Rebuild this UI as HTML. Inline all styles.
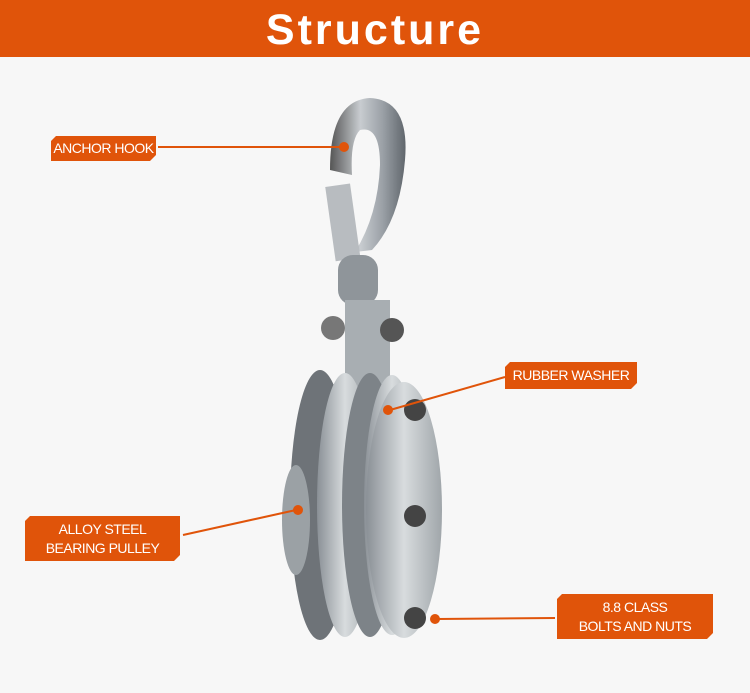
<!DOCTYPE html>
<html><head><style>
body{margin:0;width:750px;height:693px;overflow:hidden;background:#f7f7f7;font-family:"Liberation Sans",sans-serif;position:relative}
.hd{position:absolute;left:0;top:0;width:750px;height:57px;background:#e0540a;color:#fff;font-weight:bold;font-size:43px;letter-spacing:3px;text-align:center;line-height:60px}
.lb{position:absolute;background:#e0540a;color:#fff;font-size:14px;letter-spacing:-0.5px;white-space:nowrap;text-align:center;display:flex;align-items:center;justify-content:center;line-height:19px;clip-path:polygon(5px 0,100% 0,100% calc(100% - 6px),calc(100% - 6px) 100%,0 100%,0 5px)}
svg{position:absolute;left:0;top:0}
</style></head><body>
<svg width="750" height="693">
<defs>
<linearGradient id="m" x1="0" x2="1"><stop offset="0" stop-color="#555"/><stop offset=".4" stop-color="#c8ccd0"/><stop offset=".7" stop-color="#9aa0a6"/><stop offset="1" stop-color="#60666c"/></linearGradient>
<linearGradient id="p" x1="0" x2="1"><stop offset="0" stop-color="#8a9096"/><stop offset=".5" stop-color="#d8dcde"/><stop offset="1" stop-color="#a0a6aa"/></linearGradient>
</defs>
<path d="M330 170 Q330 100 370 98 Q410 100 405 160 Q400 220 372 250 L355 252 Q378 215 380 165 Q380 125 360 130 Q350 140 352 175 Z" fill="url(#m)"/>
<rect x="330" y="185" width="25" height="75" fill="#b8bcc0" transform="rotate(-8 342 220)"/>
<rect x="338" y="255" width="40" height="50" rx="15" fill="#8f959a"/>
<circle cx="333" cy="328" r="12" fill="#777"/>
<rect x="345" y="300" width="45" height="90" fill="#a8aeb2"/>
<circle cx="392" cy="330" r="12" fill="#555"/>
<ellipse cx="320" cy="505" rx="30" ry="135" fill="#6e7378"/>
<ellipse cx="345" cy="505" rx="28" ry="132" fill="url(#p)"/>
<ellipse cx="370" cy="505" rx="28" ry="132" fill="#7d8388"/>
<ellipse cx="392" cy="505" rx="28" ry="130" fill="url(#p)"/>
<ellipse cx="296" cy="520" rx="14" ry="55" fill="#9ba1a5"/>
<ellipse cx="404" cy="510" rx="38" ry="128" fill="url(#p)"/>
<circle cx="415" cy="410" r="11" fill="#444"/><circle cx="415" cy="516" r="11" fill="#444"/><circle cx="415" cy="618" r="11" fill="#444"/>
<g stroke="#e0540a" stroke-width="2" fill="#e0540a">
<line x1="158" y1="147" x2="342" y2="147"/><circle cx="344" cy="147" r="4"/>
<line x1="505" y1="377" x2="390" y2="410"/><circle cx="388" cy="410" r="4"/>
<line x1="183" y1="535" x2="296" y2="510"/><circle cx="298" cy="510" r="4"/>
<line x1="555" y1="618" x2="437" y2="619"/><circle cx="435" cy="619" r="4"/>
</g>
</svg>
<div class="hd">Structure</div>
<div class="lb" style="left:51px;top:136px;width:105px;height:25px">ANCHOR HOOK</div>
<div class="lb" style="left:505px;top:362px;width:132px;height:27px">RUBBER WASHER</div>
<div class="lb" style="left:25px;top:516px;width:155px;height:45px">ALLOY STEEL<br>BEARING PULLEY</div>
<div class="lb" style="left:557px;top:594px;width:156px;height:45px">8.8 CLASS<br>BOLTS AND NUTS</div>
</body></html>
